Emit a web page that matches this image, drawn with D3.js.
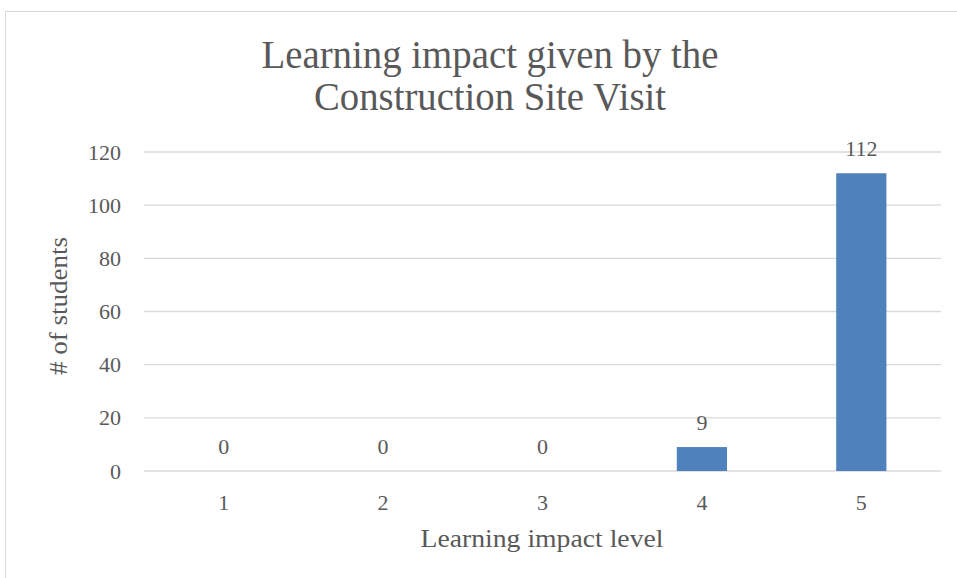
<!DOCTYPE html>
<html>
<head>
<meta charset="utf-8">
<script src="https://cdn.jsdelivr.net/npm/d3@7"></script>
<style>
  body { margin: 0; background: #fff; }
  text { font-family: "Liberation Serif", serif; fill: #595959; }
</style>
</head>
<body>
<svg id="chart" width="957" height="578"></svg>
<script>
////////// dados
const levels = ['1', '2', '3', '4', '5'];
const students = [0, 0, 0, 9, 112];
const yTicks = [0, 20, 40, 60, 80, 100, 120];
const titleLines = ['Learning impact given by the', 'Construction Site Visit'];

const svg = d3.select('#chart');

// moldura do grafico
svg.append('rect')
  .attr('x', 5.5).attr('y', 11.5)
  .attr('width', 1000).attr('height', 1000)
  .attr('fill', 'none')
  .attr('stroke', '#d9d9d9');

const plot = { left: 144, right: 941, top: 152, bottom: 471 };

let x = d3.scaleBand()
  .domain(levels)
  .range([plot.left, plot.right])
  .paddingInner(0.685)
  .paddingOuter(0.3425);

let y = d3.scaleLinear()
  .domain([0, 120])
  .range([plot.bottom, plot.top]);

// linhas de grade
svg.append('g')
  .selectAll('line')
  .data(yTicks)
  .join('line')
  .attr('x1', plot.left).attr('x2', plot.right)
  .attr('y1', d => y(d)).attr('y2', d => y(d))
  .attr('stroke', '#d9d9d9')
  .attr('stroke-width', 1.3);

// eixo y
const yAxis = svg.append('g')
  .attr('transform', `translate(${plot.left - 23},0)`)
  .call(d3.axisLeft(y).tickValues(yTicks).tickSize(0).tickPadding(0));
yAxis.select('.domain').remove();
yAxis.selectAll('text')
  .style('font-size', '22px')
  .style('font-family', '"Liberation Serif", serif')
  .attr('fill', '#595959');

// eixo x
const xAxis = svg.append('g')
  .attr('transform', `translate(0,${plot.bottom})`)
  .call(d3.axisBottom(x).tickSize(0).tickPadding(23));
xAxis.select('.domain').remove();
xAxis.selectAll('text')
  .style('font-size', '22px')
  .style('font-family', '"Liberation Serif", serif')
  .attr('fill', '#595959');

const data = levels.map((l, i) => ({ level: l, value: students[i] }));

// barras
svg.append('g')
  .selectAll('rect')
  .data(data)
  .join('rect')
  .attr('x', d => x(d.level))
  .attr('y', d => y(d.value))
  .attr('width', x.bandwidth())
  .attr('height', d => y(0) - y(d.value))
  .attr('fill', '#4f81bd');

// rotulos de valor
svg.append('g')
  .selectAll('text')
  .data(data)
  .join('text')
  .attr('x', d => x(d.level) + x.bandwidth() / 2)
  .attr('y', d => y(d.value) - 17)
  .attr('text-anchor', 'middle')
  .style('font-size', '22px')
  .text(d => d.value);

// titulo
svg.append('text')
  .attr('x', 490).attr('y', 68)
  .attr('text-anchor', 'middle')
  .attr('textLength', 457).attr('lengthAdjust', 'spacingAndGlyphs')
  .style('font-size', '40px')
  .text(titleLines[0]);
svg.append('text')
  .attr('x', 490).attr('y', 110)
  .attr('text-anchor', 'middle')
  .attr('textLength', 352).attr('lengthAdjust', 'spacingAndGlyphs')
  .style('font-size', '40px')
  .text(titleLines[1]);

// titulos dos eixos
svg.append('text')
  .attr('transform', 'translate(67,306) rotate(-90)')
  .attr('text-anchor', 'middle')
  .attr('textLength', 138).attr('lengthAdjust', 'spacingAndGlyphs')
  .style('font-size', '25px')
  .text('# of students');

svg.append('text')
  .attr('x', 542).attr('y', 547)
  .attr('text-anchor', 'middle')
  .attr('textLength', 243).attr('lengthAdjust', 'spacingAndGlyphs')
  .style('font-size', '25px')
  .text('Learning impact level');
</script>
</body>
</html>
